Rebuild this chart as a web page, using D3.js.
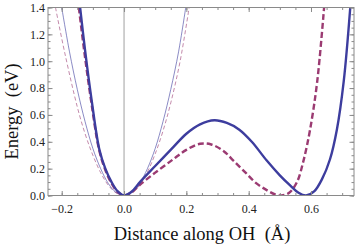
<!DOCTYPE html>
<html>
<head>
<meta charset="utf-8">
<script src="https://cdn.jsdelivr.net/npm/d3@7"></script>
<style>
  body { margin: 0; background: #fff; }
  svg { display: block; }
</style>
</head>
<body>
<svg id="chart" width="357" height="246"></svg>
<script>
// ---------------------------------------------------------------------------
// Data: [distance (Å), energy (eV)]
// ---------------------------------------------------------------------------
const thickBlue = [
  [-0.141, 1.4], [-0.125, 1.08], [-0.104, 0.71], [-0.079, 0.34], [-0.06, 0.2],
  [-0.04, 0.1], [-0.02, 0.03], [0, 0], [0.025, 0.03], [0.051, 0.1], [0.1, 0.22],
  [0.158, 0.36], [0.2, 0.46], [0.244, 0.53], [0.29, 0.56], [0.33, 0.54],
  [0.37, 0.49], [0.41, 0.4], [0.458, 0.26], [0.5, 0.15], [0.533, 0.075],
  [0.56, 0.02], [0.584, 0], [0.61, 0.03], [0.635, 0.12], [0.661, 0.27],
  [0.683, 0.49], [0.705, 0.85], [0.726, 1.4]
];
const thickPink = [
  [-0.145, 1.4], [-0.128, 1.08], [-0.106, 0.71], [-0.08, 0.34], [-0.06, 0.19],
  [-0.04, 0.09], [-0.02, 0.025], [0, 0], [0.025, 0.025], [0.051, 0.08], [0.1, 0.17],
  [0.158, 0.27], [0.2, 0.34], [0.244, 0.385], [0.28, 0.38], [0.32, 0.33],
  [0.351, 0.26], [0.39, 0.17], [0.425, 0.09], [0.458, 0.04], [0.485, 0.008],
  [0.506, 0], [0.53, 0.02], [0.555, 0.1], [0.576, 0.26], [0.597, 0.49],
  [0.62, 0.85], [0.642, 1.4]
];
const thinBlue = [
  [-0.2, 1.4], [-0.175, 1.07], [-0.15, 0.79], [-0.125, 0.55], [-0.1, 0.35],
  [-0.075, 0.2], [-0.05, 0.088], [-0.025, 0.022], [0, 0], [0.025, 0.022],
  [0.05, 0.088], [0.075, 0.2], [0.1, 0.35], [0.125, 0.55], [0.15, 0.79],
  [0.175, 1.07], [0.198, 1.4]
];
const thinPink = [
  [-0.22, 1.4], [-0.19, 1.06], [-0.15, 0.66], [-0.125, 0.46], [-0.1, 0.3],
  [-0.075, 0.17], [-0.05, 0.075], [-0.025, 0.019], [0, 0], [0.025, 0.019],
  [0.05, 0.077], [0.075, 0.175], [0.1, 0.31], [0.125, 0.48], [0.15, 0.69],
  [0.18, 1.0], [0.209, 1.4]
];
const xTicks = [-0.2, 0.0, 0.2, 0.4, 0.6];
const yTicks = [0.0, 0.2, 0.4, 0.6, 0.8, 1.0, 1.2, 1.4];

// ---------------------------------------------------------------------------
// Layout
// ---------------------------------------------------------------------------
const svg = d3.select("#chart");
const frame = {left: 48, right: 354, top: 7.5, bottom: 195.5};
const serif = "'Liberation Serif', 'Times New Roman', Times, serif";

const x = d3.scaleLinear().domain([-0.244, 0.738]).range([frame.left, frame.right]);
const y = d3.scaleLinear().domain([0, 1.4]).range([frame.bottom, frame.top]);

const frameColor = "#8a8a8a";
const blue = "#3d3d9e";
const pink = "#9b3b72";

svg.append("defs").append("clipPath").attr("id", "clip")
  .append("rect")
  .attr("x", frame.left).attr("y", frame.top)
  .attr("width", frame.right - frame.left).attr("height", frame.bottom - frame.top);

// zero line
svg.append("line")
  .attr("x1", x(0)).attr("x2", x(0))
  .attr("y1", frame.bottom).attr("y2", frame.top)
  .attr("stroke", "#a0a0a0").attr("stroke-width", 1);

// curves
const line = d3.line()
  .x(d => x(d[0]))
  .y(d => y(d[1]))
  .curve(d3.curveCatmullRom.alpha(0.5));

const curves = [
  {data: thinPink, color: pink, width: 0.8, dash: "4,2.5", opacity: 0.75},
  {data: thinBlue, color: blue, width: 0.8, dash: null, opacity: 0.75},
  {data: thickPink, color: pink, width: 2.4, dash: "6,3", opacity: 1},
  {data: thickBlue, color: blue, width: 2.4, dash: null, opacity: 1}
];

const plot = svg.append("g").attr("clip-path", "url(#clip)");
curves.forEach(c => {
  plot.append("path")
    .datum(c.data)
    .attr("d", line)
    .attr("fill", "none")
    .attr("stroke", c.color)
    .attr("stroke-width", c.width)
    .attr("stroke-opacity", c.opacity)
    .attr("stroke-dasharray", c.dash);
});

// frame ticks (all four sides, pointing in)
function minorTicks(scale, step) {
  const [a, b] = scale.domain();
  const out = [];
  for (let v = Math.ceil(a / step) * step; v <= b + 1e-9; v += step) out.push(+v.toFixed(3));
  return out;
}
const xMinor = minorTicks(x, 0.05);
const yMinor = minorTicks(y, 0.05);

function styleAxis(g) {
  g.select(".domain").remove();
  g.attr("font-family", serif).attr("font-size", 12);
  g.selectAll(".tick line").attr("stroke", frameColor);
  g.selectAll(".tick text").attr("fill", "#222");
}

// bottom
svg.append("g").attr("transform", `translate(0,${frame.bottom})`)
  .call(d3.axisBottom(x).tickValues(xMinor).tickSize(-2.5).tickFormat(""))
  .call(styleAxis);
svg.append("g").attr("transform", `translate(0,${frame.bottom})`)
  .call(d3.axisBottom(x).tickValues(xTicks).tickSize(-4.5).tickPadding(9)
    .tickFormat(d => d3.format(".1f")(d).replace("-", "\u2212")))
  .call(styleAxis);
// top
svg.append("g").attr("transform", `translate(0,${frame.top})`)
  .call(d3.axisTop(x).tickValues(xMinor).tickSize(-2.5).tickFormat(""))
  .call(styleAxis);
svg.append("g").attr("transform", `translate(0,${frame.top})`)
  .call(d3.axisTop(x).tickValues(xTicks).tickSize(-4.5).tickFormat(""))
  .call(styleAxis);
// left
svg.append("g").attr("transform", `translate(${frame.left},0)`)
  .call(d3.axisLeft(y).tickValues(yMinor).tickSize(-2.5).tickFormat(""))
  .call(styleAxis);
svg.append("g").attr("transform", `translate(${frame.left},0)`)
  .call(d3.axisLeft(y).tickValues(yTicks).tickSize(-4.5).tickPadding(3)
    .tickFormat(d3.format(".1f")))
  .call(styleAxis);
// right
svg.append("g").attr("transform", `translate(${frame.right},0)`)
  .call(d3.axisRight(y).tickValues(yMinor).tickSize(-2.5).tickFormat(""))
  .call(styleAxis);
svg.append("g").attr("transform", `translate(${frame.right},0)`)
  .call(d3.axisRight(y).tickValues(yTicks).tickSize(-4.5).tickFormat(""))
  .call(styleAxis);

// frame box
svg.append("rect")
  .attr("x", frame.left).attr("y", frame.top)
  .attr("width", frame.right - frame.left).attr("height", frame.bottom - frame.top)
  .attr("fill", "none").attr("stroke", frameColor).attr("stroke-width", 1);

// axis labels
svg.append("text")
  .attr("x", 202).attr("y", 240)
  .attr("text-anchor", "middle")
  .attr("font-family", serif).attr("font-size", 18.5).attr("fill", "#111")
  .attr("xml:space", "preserve")
  .text("Distance along OH  (\u00C5)");

svg.append("text")
  .attr("transform", `translate(18,${(frame.top + frame.bottom) / 2 + 10}) rotate(-90)`)
  .attr("text-anchor", "middle")
  .attr("font-family", serif).attr("font-size", 18.5).attr("fill", "#111")
  .attr("xml:space", "preserve")
  .text("Energy  (eV)");
</script>
</body>
</html>
